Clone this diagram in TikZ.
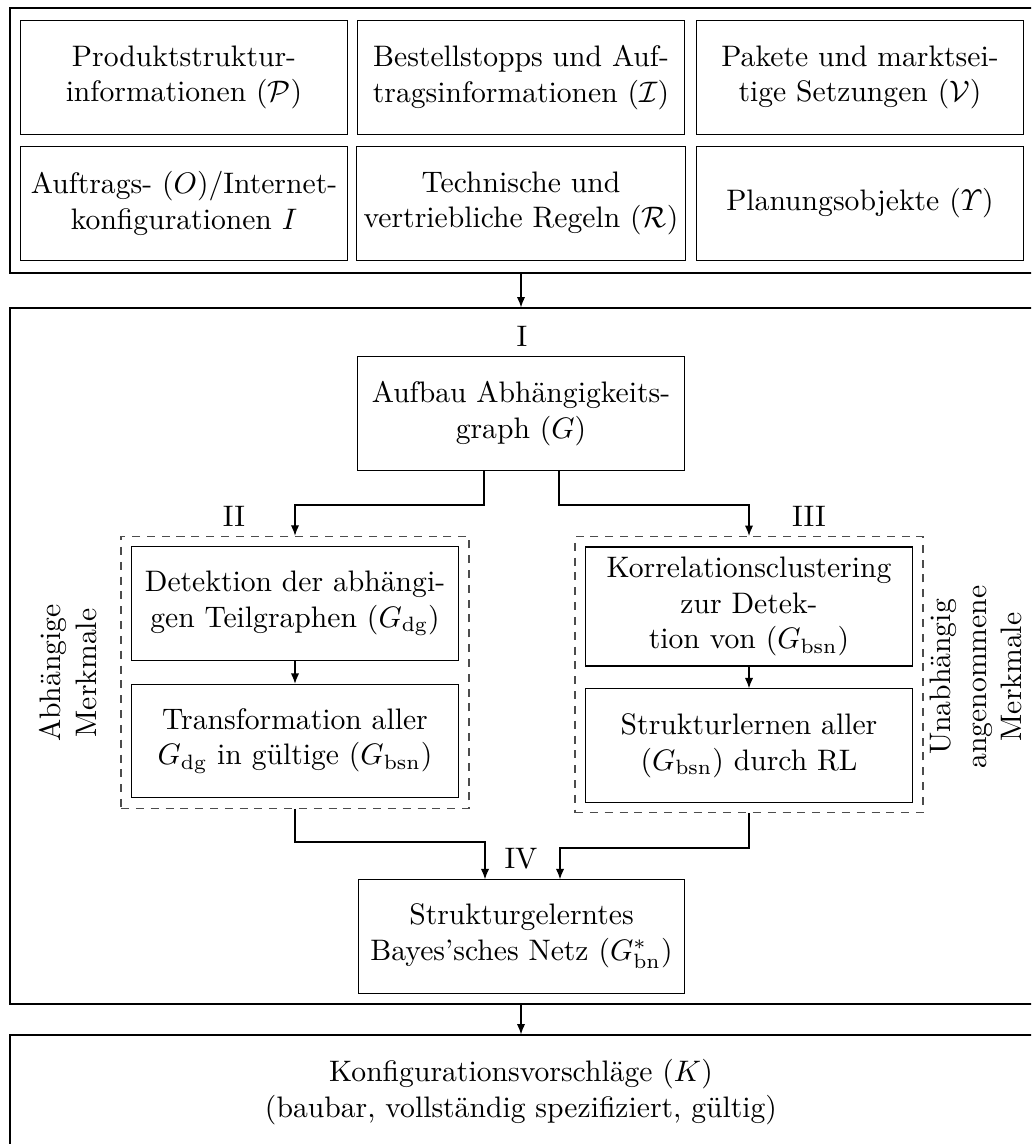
\documentclass[tikz,border=0pt]{standalone}
\usepackage{amsmath}
\usepackage{fontspec}
\usetikzlibrary{arrows.meta,fit}
\begin{document}
\begin{tikzpicture}[x=0.3373pt,y=-0.3373pt,
  box/.style={draw, align=center, minimum width=110.2pt, minimum height=38.2pt, inner xsep=2.5pt, inner ysep=3.33pt},
  frame/.style={draw, inner sep=0pt},
  group/.style={draw=black!70, dash pattern=on 2.7pt off 2.3pt, inner sep=3.37pt},
  arr/.style={-{Latex[length=3.5pt,width=2.8pt]}},
  tag/.style={inner sep=0pt},
  side/.style={rotate=90, align=center}]
\useasboundingbox (0,0) rectangle (1031,1144);
\clip (0,0) rectangle (1031,1144);

% outer frames (running past the right and lower edges)
\coordinate (f1a) at (10,8);    \coordinate (f1b) at (1045,273);
\coordinate (f2a) at (10,308);  \coordinate (f2b) at (1045,1004);
\coordinate (f3a) at (10,1035); \coordinate (f3b) at (1045,1150);
\node[frame, fit=(f1a)(f1b)] (inputs) {};
\node[frame, fit=(f2a)(f2b)] (method) {};
\node[frame, fit=(f3a)(f3b)] (output) {};

% input data
\node[box] (p) at (184,77.5) {Produktstruktur-\\informationen ($\mathcal{P}$)};
\node[box] (i) at (521,77.5) {Bestellstopps und Auf-\\tragsinformationen ($\mathcal{I}$)};
\node[box] (v) at (860,77.5) {Pakete und marktsei-\\tige Setzungen ($\mathcal{V}$)};
\node[box] (o) at (184,203.5) {Auftrags- ($O$)/Internet-\\konfigurationen $I$};
\node[box] (r) at (521,203.5) {Technische und\\vertriebliche Regeln ($\mathcal{R}$)};
\node[box] (u) at (860,203.5) {Planungsobjekte ($\varUpsilon$)};

% method steps
\node[tag] at (522,336) {I};
\node[box] (g) at (521,413.5) {Aufbau Abhängigkeits-\\graph ($G$)};

\node[box] (det) at (295,603.5) {Detektion der abhängi-\\gen Teilgraphen ($G_{\mathrm{dg}}$)};
\node[box] (tra) at (295,741) {Transformation aller\\$G_{\mathrm{dg}}$ in gültige ($G_{\mathrm{bsn}}$)};
\node[box] (kor) at (749,606.5) {Korrelationsclustering\\zur Detek-\\tion von ($G_{\mathrm{bsn}}$)};
\node[box] (stl) at (749,745.5) {Strukturlernen aller\\($G_{\mathrm{bsn}}$) durch RL};

\node[group, fit=(det)(tra)] (dl) {};
\node[group, fit=(kor)(stl)] (dr) {};
\node[tag] at (234,516) {II};
\node[tag] at (809,516) {III};

\node[side] at (68,673) {Abhängige\\Merkmale};
\node[side] at (976,677) {Unabhängig\\angenommene\\Merkmale};

\node[tag] at (521,859) {IV};
\node[box] (bn) at (521.5,936.5) {Strukturgelerntes\\Bayes'sches Netz ($G^{*}_{\mathrm{bn}}$)};

\node[align=center] (k) at (521,1092) {Konfigurationsvorschläge ($K$)\\(baubar, vollständig spezifiziert, gültig)};

% connectors
\coordinate (xa) at (484,505);
\coordinate (xb) at (559,505);
\coordinate (ya) at (485,842);
\coordinate (yb) at (560,848);
\draw[arr] (inputs.south -| k) -- (method.north -| k);
\draw[arr] (g.south -| xa) -- (xa) -| (dl.north);
\draw[arr] (g.south -| xb) -- (xb) -| (dr.north);
\draw[arr] (det) -- (tra);
\draw[arr] (kor) -- (stl);
\draw[arr] (dl.south) |- (ya) -- (ya |- bn.north);
\draw[arr] (dr.south) |- (yb) -- (yb |- bn.north);
\draw[arr] (method.south -| k) -- (output.north -| k);
\end{tikzpicture}
\end{document}
